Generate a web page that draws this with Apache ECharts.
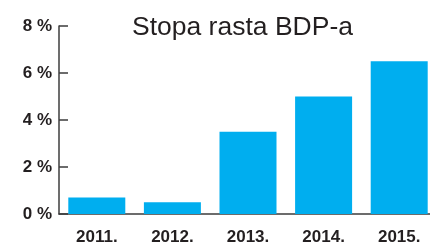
<!DOCTYPE html>
<html lang="hr">
<head>
	<meta charset="UTF-8">
	<title>Stopa rasta BDP-a</title>
	<style>
		html,body{background:#fff;margin:0;padding:0;overflow:hidden;}
		#main{width:430px;height:244px;}
	</style>
</head>
<body>
	<div id="main"></div>
	<script src="https://cdn.jsdelivr.net/npm/echarts@6/dist/echarts.min.js"></script>
	<script>
		var years = ['2011.', '2012.', '2013.', '2014.', '2015.'];
		var growth = [0.7, 0.5, 3.5, 5.0, 6.5];
		var yTicks = [0, 2, 4, 6, 8];

		var chart = echarts.init(document.getElementById('main'));
		var option = {
			animation: false,
			title: {
				text: 'Stopa rasta BDP-a',
				left: 127,
				top: 9,
				textStyle: {
					fontFamily: 'Liberation Sans',
					fontWeight: 'normal',
					fontSize: 26.5,
					color: '#231f20'
				}
			},
			grid: {
				left: 59,
				top: 26,
				right: -7,
				bottom: 30,
				outerBoundsMode: 'none'
			},
			xAxis: {
				type: 'category',
				data: years,
				axisLine: {lineStyle: {color: '#3d3d3d', width: 1.5}},
				axisTick: {show: false},
				axisLabel: {
					margin: 15,
					fontFamily: 'Liberation Sans',
					fontWeight: 'bold',
					fontSize: 17,
					color: '#231f20'
				}
			},
			yAxis: {
				type: 'value',
				min: yTicks[0],
				max: yTicks[yTicks.length - 1],
				interval: 2,
				splitLine: {show: false},
				axisLine: {show: true, lineStyle: {color: '#3d3d3d', width: 1.5}},
				axisTick: {show: true, inside: true, length: 9, lineStyle: {color: '#3d3d3d', width: 1.5}},
				axisLabel: {
					margin: 7,
					formatter: '{value} %',
					fontFamily: 'Liberation Sans',
					fontWeight: 'bold',
					fontSize: 17,
					color: '#231f20'
				}
			},
			series: [{
				type: 'bar',
				data: growth,
				barWidth: 57,
				itemStyle: {color: '#00aeef'}
			}]
		};
		chart.setOption(option);
	</script>
</body>
</html>
